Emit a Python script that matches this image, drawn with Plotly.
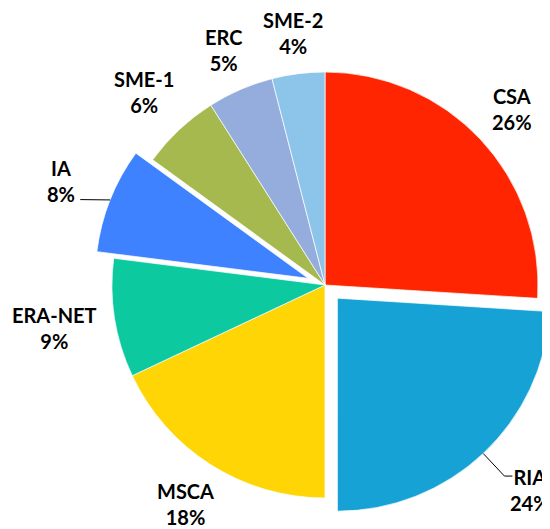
"""Share of funding by action type - pie chart."""
import math

import plotly.graph_objects as go

# ---- data ---------------------------------------------------------------------
labels = ["CSA", "RIA", "MSCA", "ERA-NET", "IA", "SME-1", "ERC", "SME-2"]
values = [26, 24, 18, 9, 8, 6, 5, 4]
pulls = [0, 0.085, 0, 0, 0.085, 0, 0, 0]

COLORS = ["#FF2500", "#17A2D6", "#FFD505", "#0DC9A0",
          "#3F82FF", "#A5B94E", "#94ADDC", "#8DC5EA"]

# ---- geometry (window pixels) -------------------------------------------------
W, H = 550, 529
OFF = 8                             # default <body> margin of the html page
CX, CY, R = 325, 285, 213           # pie centre / radius on screen
GAP = 15                            # rim -> nearest side of the label box
CHAR_W, BOX_H = 12.3, 44            # rough label box metrics
FONT = dict(family="Lato, Open Sans, sans-serif", size=20, color="black", weight="bold")


def px(x, y):
    """window pixel -> paper coords"""
    return (x - OFF) / W, 1 - (y - OFF) / H


# domain box so that plotly's radius = R (r = box / (2 + 2*maxPull))
half = R * (1 + max(pulls))
dx0, dy1 = px(CX - half, CY - half)
dx1, dy0 = px(CX + half, CY + half)

fig = go.Figure(go.Pie(
    labels=labels,
    values=values,
    pull=pulls,
    sort=False,
    direction="clockwise",
    rotation=0,
    marker=dict(colors=COLORS, line=dict(color="rgba(255,255,255,0.7)", width=1)),
    textinfo="none",
    domain=dict(x=[dx0, dx1], y=[dy0, dy1]),
    showlegend=False,
    hoverinfo="label+percent",
))


def seg(x0, y0, x1, y1):
    a, b = px(x0, y0)
    c, d = px(x1, y1)
    fig.add_shape(type="line", xref="paper", yref="paper", x0=a, y0=b, x1=c, y1=d,
                  line=dict(color="black", width=1))


# ---- labels, placed from the slice mid-angles --------------------------------------
total = sum(values)
cum = 0
for lab, v, p in zip(labels, values, pulls):
    mid = (cum + v / 2) / total * 2 * math.pi
    cum += v
    ux, uy = math.sin(mid), -math.cos(mid)
    pct = f"{v / total:.0%}"
    text = f"{lab}<br>{pct}"
    edge = R * (1 + p)
    ex, ey = CX + edge * ux, CY + edge * uy

    if lab == "RIA":
        # leader: rim -> elbow -> short horizontal, label to the right
        kx, ky = ex + 31 * ux, ey + 31 * uy
        seg(ex, ey, kx, ky)
        seg(kx, ky, kx + 8, ky)
        ax, ay = px(kx + 4, ky + 14)
        fig.add_annotation(x=ax, y=ay, xref="paper", yref="paper", text=text, showarrow=False,
                           xanchor="left", yanchor="middle", align="center", font=FONT)
        continue

    bw = CHAR_W * max(len(lab), len(pct))
    dist = edge + GAP + abs(ux) * bw / 2 + abs(uy) * BOX_H / 2
    if lab == "IA":
        dist += 18
    lx, ly = CX + dist * ux, CY + dist * uy
    if lab == "IA":
        seg(ex, ey, lx + 19, ly + 19)
    ax, ay = px(lx, ly)
    fig.add_annotation(x=ax, y=ay, xref="paper", yref="paper", text=text, showarrow=False,
                       xanchor="center", yanchor="middle", align="center", font=FONT)

fig.update_layout(
    width=W,
    height=H,
    margin=dict(l=0, r=0, t=0, b=0),
    paper_bgcolor="white",
    plot_bgcolor="white",
)

fig.write_html("out.html")
